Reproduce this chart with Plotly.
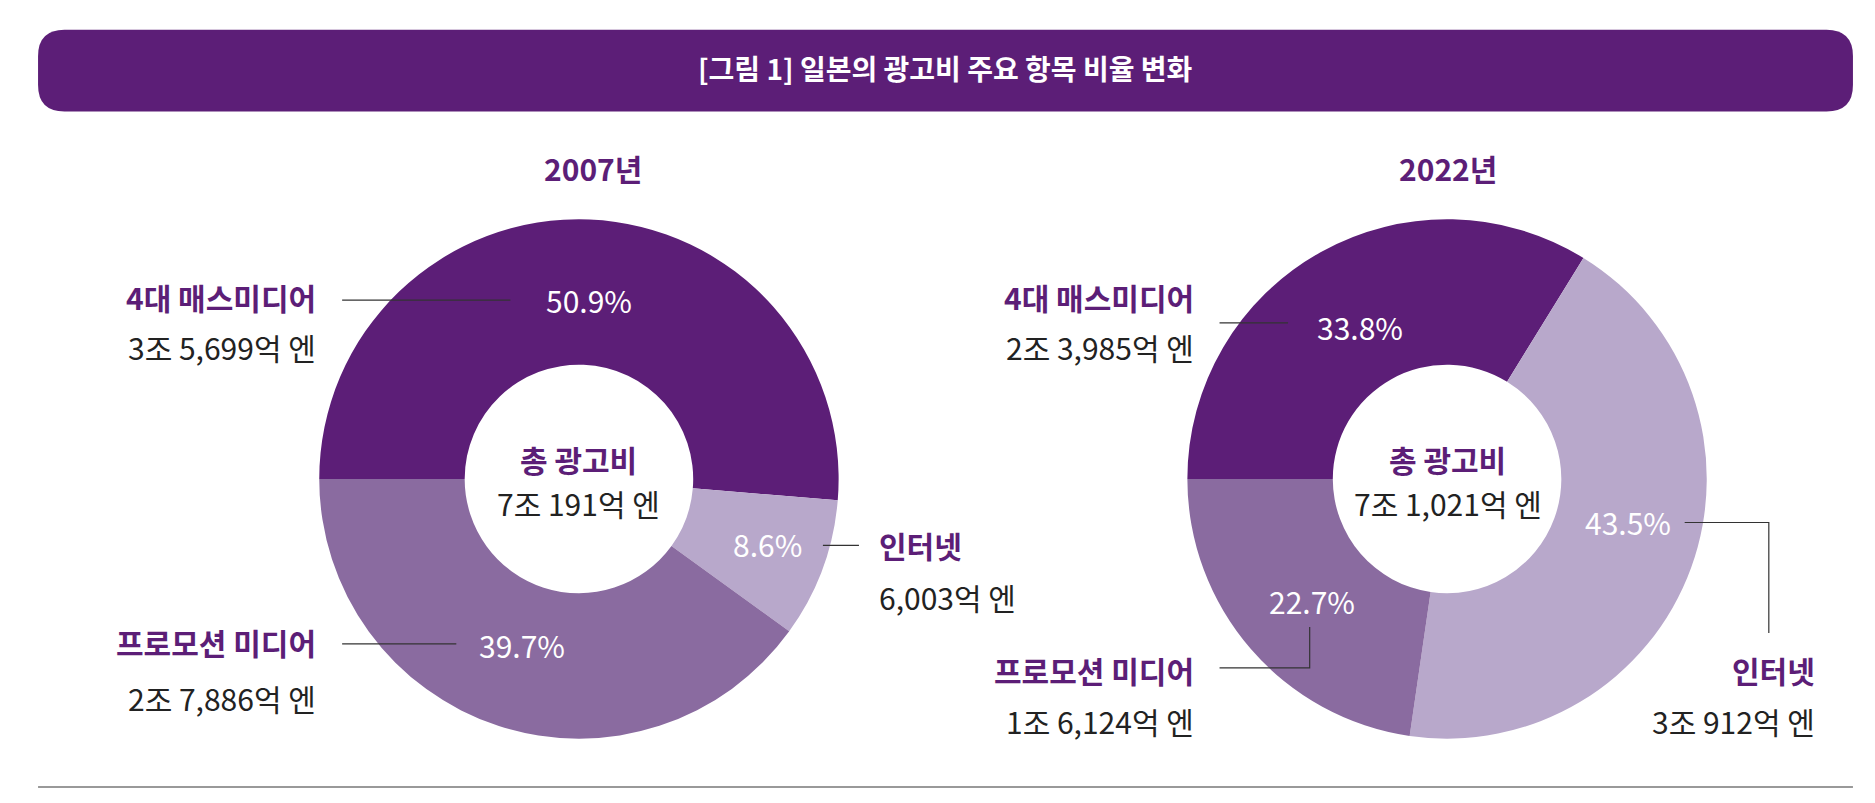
import plotly.graph_objects as go

categories = ["4대 매스미디어", "인터넷", "프로모션 미디어"]
values_2007 = [50.9, 8.6, 39.7]
values_2022 = [33.8, 43.5, 22.7]
amounts_2007 = ["3조 5,699억 엔", "6,003억 엔", "2조 7,886억 엔"]
amounts_2022 = ["2조 3,985억 엔", "3조 912억 엔", "1조 6,124억 엔"]
totals = ["7조 191억 엔", "7조 1,021억 엔"]
years = ["2007년", "2022년"]
colors = ["#5c1e77", "#b8a8cb", "#8a6ba0"]
PURPLE = "#5c1e77"
FONT = "Noto Sans CJK KR"
W, H = 1560.0, 668.0

def px(x): return x / W
def py(y): return 1 - y / H

fig = go.Figure()
for vals, dom in [(values_2007, [0.166, 0.443]), (values_2022, [0.629, 0.906])]:
    fig.add_trace(go.Pie(labels=categories, values=vals, sort=False, direction="clockwise",
                         rotation=-90, hole=0.44, marker=dict(colors=colors, line=dict(width=0)),
                         textinfo="none", hoverinfo="label+percent", showlegend=False,
                         domain=dict(x=dom, y=[0.09, 0.737])))

ann = []
def A(x, y, text, size=30, color="#222", bold=False, xa="center"):
    t = f"<b>{text}</b>" if bold else text
    ann.append(dict(x=px(x), y=py(y), xref="paper", yref="paper", text=t, showarrow=False,
                    xanchor=xa, yanchor="middle", font=dict(family=FONT, size=size, color=color)))

A(780, 50, "[그림 1] 일본의 광고비 주요 항목 비율 변화", size=28, color="white", bold=True)
for cx, yr in [(487, years[0]), (1198, years[1])]:
    A(cx, 133, yr, color=PURPLE, bold=True)
for cx, tot in [(475, totals[0]), (1198, totals[1])]:
    A(cx, 375, "총 광고비", color=PURPLE, bold=True)
    A(cx, 412, tot)

for (x, y), v in zip([(483, 243), (632, 446), (428, 530)], values_2007):
    A(x, y, f"{v}%", color="white")
for (x, y), v in zip([(1125, 265), (1348, 428), (1085, 493)], values_2022):
    A(x, y, f"{v}%", color="white")

A(258, 240, categories[0], color=PURPLE, bold=True, xa="right")
A(258, 282, amounts_2007[0], xa="right")
A(723, 447, categories[1], color=PURPLE, bold=True, xa="left")
A(723, 490, amounts_2007[1], xa="left")
A(258, 527, categories[2], color=PURPLE, bold=True, xa="right")
A(258, 574, amounts_2007[2], xa="right")
A(988, 240, categories[0], color=PURPLE, bold=True, xa="right")
A(988, 282, amounts_2022[0], xa="right")
A(1505, 551, categories[1], color=PURPLE, bold=True, xa="right")
A(1505, 593, amounts_2022[1], xa="right")
A(988, 551, categories[2], color=PURPLE, bold=True, xa="right")
A(988, 593, amounts_2022[2], xa="right")

# rounded title bar in pixel-like coords
x0, x1, y0, y1, r = 25, 1535, 18, 86, 22
rp = (f"M {px(x0+r)},{py(y0)} L {px(x1-r)},{py(y0)} Q {px(x1)},{py(y0)} {px(x1)},{py(y0+r)} "
      f"L {px(x1)},{py(y1-r)} Q {px(x1)},{py(y1)} {px(x1-r)},{py(y1)} L {px(x0+r)},{py(y1)} "
      f"Q {px(x0)},{py(y1)} {px(x0)},{py(y1-r)} L {px(x0)},{py(y0+r)} Q {px(x0)},{py(y0)} {px(x0+r)},{py(y0)} Z")
shapes = [dict(type="path", xref="paper", yref="paper", path=rp,
               fillcolor=PURPLE, line=dict(width=0), layer="below"),
          dict(type="line", xref="paper", yref="paper", x0=px(25), x1=px(1535), y0=py(648), y1=py(648),
               line=dict(color="#777", width=1.5))]
def path(pts):
    d = "M " + " L ".join(f"{px(x)},{py(y)}" for x, y in pts)
    shapes.append(dict(type="path", xref="paper", yref="paper", path=d, line=dict(color="#333", width=1.2)))
path([(278, 243), (418, 243)])
path([(678, 447), (708, 447)])
path([(278, 529), (373, 529)])
path([(1008, 262), (1065, 262)])
path([(1008, 549), (1083, 549), (1083, 515)])
path([(1395, 428), (1465, 428), (1465, 520)])

fig.update_layout(width=1875, height=803, margin=dict(l=0, r=0, t=0, b=0),
                  paper_bgcolor="white", plot_bgcolor="white", annotations=ann, shapes=shapes)
fig.write_html("out.html")
